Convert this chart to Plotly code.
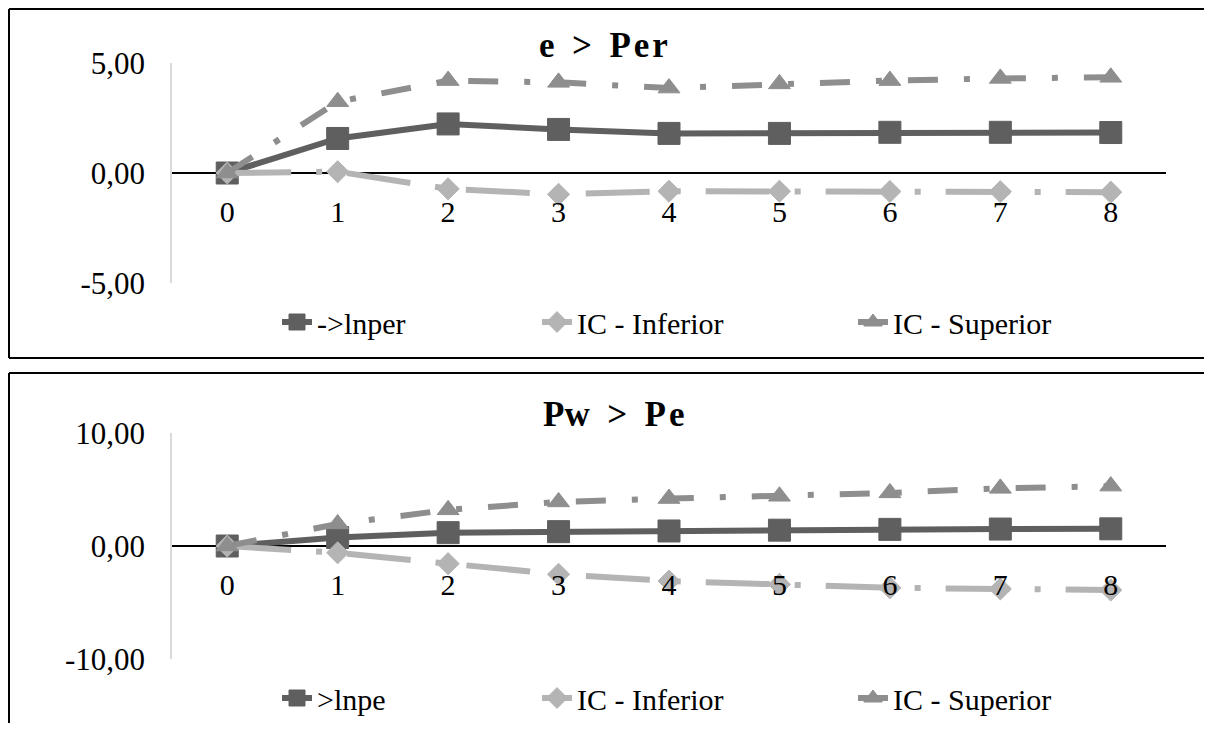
import plotly.graph_objects as go

# ---------------- data ----------------
periods = [0, 1, 2, 3, 4, 5, 6, 7, 8]
period_labels = ["0", "1", "2", "3", "4", "5", "6", "7", "8"]

top_title = "e\u00a0\u00a0>\u00a0\u00a0P\u200ae\u200ar"
top_names = ["->lnper", "IC - Inferior", "IC - Superior"]
top_lnper = [0.00, 1.57, 2.23, 1.98, 1.80, 1.80, 1.85, 1.85, 1.84]
top_inferior = [0.00, 0.06, -0.72, -0.97, -0.83, -0.83, -0.84, -0.85, -0.87]
top_superior = [0.00, 3.24, 4.20, 4.12, 3.86, 4.05, 4.20, 4.30, 4.35]
top_yticks = [-5, 0, 5]
top_ytext = ["-5,00", "0,00", "5,00"]

bottom_title = "Pw\u00a0\u00a0>\u00a0\u00a0P\u200ae"
bottom_names = [">lnpe", "IC - Inferior", "IC - Superior"]
bottom_lnpe = [0.00, 0.75, 1.18, 1.27, 1.33, 1.40, 1.47, 1.50, 1.52]
bottom_inferior = [0.00, -0.60, -1.56, -2.50, -3.10, -3.40, -3.70, -3.80, -3.90]
bottom_superior = [0.00, 1.95, 3.20, 3.90, 4.20, 4.40, 4.70, 5.10, 5.30]
bottom_yticks = [-10, 0, 10]
bottom_ytext = ["-10,00", "0,00", "10,00"]

# ---------------- styles ----------------
PAGE_PAD = 8                 # default page body margin
W, H = 1212 - 2 * PAGE_PAD, 731 - 2 * PAGE_PAD
FONT = "Times New Roman, Liberation Serif, serif"
C_MAIN = "#5f5f5f"
C_INF = "#b4b4b4"
C_SUP = "#8e8e8e"
DASH_INF = "64px,25px,6px,25px"
DASH_SUP = "30px,26px,6px,26px"

def px_x(p):
    return (p - PAGE_PAD) / W

def px_y(p):
    return 1 - (p - PAGE_PAD) / H

x_dom = [px_x(172), px_x(1166)]
top_dom = [px_y(283), px_y(63)]
bot_dom = [px_y(659), px_y(433)]

fig = go.Figure()

def add_series(xa, ya, leg, names, main, inf, sup, widths):
    fig.add_trace(go.Scatter(
        x=periods, y=main, name=names[0], xaxis=xa, yaxis=ya, legend=leg,
        mode="lines+markers", legendwidth=widths[0],
        line=dict(color=C_MAIN, width=6),
        marker=dict(symbol="square", size=22, color=C_MAIN,
                    line=dict(color=C_MAIN, width=1))))
    fig.add_trace(go.Scatter(
        x=periods, y=inf, name=names[1], xaxis=xa, yaxis=ya, legend=leg,
        mode="lines+markers", legendwidth=widths[1],
        line=dict(color=C_INF, width=6, dash=DASH_INF),
        marker=dict(symbol="diamond", size=17, color=C_INF,
                    line=dict(color=C_INF, width=1))))
    fig.add_trace(go.Scatter(
        x=periods, y=sup, name=names[2], xaxis=xa, yaxis=ya, legend=leg,
        mode="lines+markers", legendwidth=widths[2],
        line=dict(color=C_SUP, width=6, dash=DASH_SUP),
        marker=dict(symbol="triangle-up", size=19, color=C_SUP,
                    line=dict(color=C_SUP, width=1))))

add_series("x", "y", "legend", top_names, top_lnper, top_inferior, top_superior,
           [215, 271, 215])
add_series("x2", "y2", "legend2", bottom_names, bottom_lnpe, bottom_inferior,
           bottom_superior, [215, 271, 215])

def xaxis_cfg(dom_y):
    return dict(domain=x_dom, anchor="free", position=(dom_y[0] + dom_y[1]) / 2,
                range=[-0.5, 8.5], tickmode="array", tickvals=periods,
                ticktext=period_labels, showgrid=False, zeroline=False,
                showline=False, ticks="", ticklabelstandoff=18, automargin=False,
                tickfont=dict(family=FONT, size=30, color="#000000"))

def yaxis_cfg(dom, anchor, ticks, texts):
    return dict(domain=dom, anchor=anchor, range=[ticks[0], ticks[-1]],
                tickmode="array", tickvals=ticks, ticktext=texts,
                showgrid=True, gridcolor="#d9d9d9", gridwidth=1.5,
                zeroline=True, zerolinecolor="#000000", zerolinewidth=2,
                showline=True, linecolor="#d9d9d9", linewidth=1.5,
                ticks="", ticklabelstandoff=19, automargin=False,
                tickfont=dict(family=FONT, size=31, color="#000000"))

leg_common = dict(orientation="h", xanchor="left", yanchor="middle",
                  font=dict(family=FONT, size=30, color="#000000"),
                  bgcolor="rgba(0,0,0,0)", itemwidth=30)

def border_line(x0, y0, x1, y1):
    return dict(type="line", xref="paper", yref="paper",
                x0=px_x(x0), y0=px_y(y0), x1=px_x(x1), y1=px_y(y1),
                line=dict(color="#000000", width=2))

fig.update_layout(
    width=W, height=H,
    margin=dict(l=0, r=0, t=0, b=0, pad=0, autoexpand=False),
    paper_bgcolor="#ffffff", plot_bgcolor="#ffffff",
    showlegend=True,
    xaxis=xaxis_cfg(top_dom),
    yaxis=yaxis_cfg(top_dom, "x", top_yticks, top_ytext),
    xaxis2=xaxis_cfg(bot_dom),
    yaxis2=yaxis_cfg(bot_dom, "x2", bottom_yticks, bottom_ytext),
    legend=dict(x=px_x(277), y=px_y(322), **leg_common),
    legend2=dict(x=px_x(277), y=px_y(698), **leg_common),
    annotations=[
        dict(text="<b>" + top_title + "</b>", xref="paper", yref="paper",
             x=px_x(603), y=px_y(45.5), xanchor="center", yanchor="middle",
             showarrow=False, font=dict(family=FONT, size=35, color="#000000")),
        dict(text="<b>" + bottom_title + "</b>", xref="paper", yref="paper",
             x=px_x(613), y=px_y(414), xanchor="center", yanchor="middle",
             showarrow=False, font=dict(family=FONT, size=35, color="#000000")),
    ],
    shapes=[
        border_line(9, 9, 1212, 9),
        border_line(9, 358, 1212, 358),
        border_line(9, 9, 9, 358),
        border_line(9, 373, 1212, 373),
        border_line(9, 373, 9, 731),
    ],
)

fig.write_html("out.html")
